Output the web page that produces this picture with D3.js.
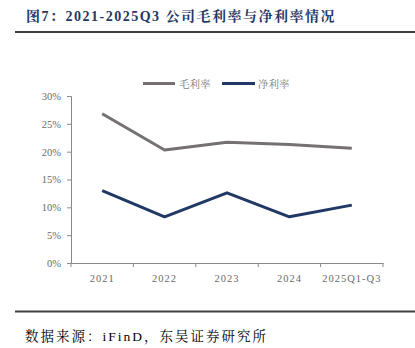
<!DOCTYPE html>
<html><head><meta charset="utf-8">
<script src="https://cdn.jsdelivr.net/npm/d3@7"></script>
<style>body{margin:0;background:#fff;}svg{display:block;}</style>
</head><body>
<svg id="c" width="415" height="348"></svg>
<script>
const categories = ["2021","2022","2023","2024","2025Q1-Q3"];
const grossMargin = [26.8, 20.3, 21.7, 21.3, 20.6];
const netMargin = [13.0, 8.3, 12.6, 8.3, 10.4];
const yTicks = [0,5,10,15,20,25,30];
const seriesNames = ["毛利率","净利率"];
const colors = ["#767171","#1f3864"];

const svg = d3.select("#c");
const cjk = "'Liberation Serif','Noto Serif CJK SC','Noto Sans CJK SC',serif";

svg.append("text").attr("x",26).attr("y",21)
  .attr("font-family",cjk).attr("font-weight","bold").attr("font-size",14)
  .attr("letter-spacing","1.5px")
  .attr("fill","#1f3864").text("图7：2021-2025Q3 公司毛利率与净利率情况");
svg.append("line").attr("x1",15).attr("x2",415).attr("y1",32).attr("y2",32)
  .attr("stroke","#404040").attr("stroke-width",2);
svg.append("line").attr("x1",15).attr("x2",415).attr("y1",311.5).attr("y2",311.5)
  .attr("stroke","#404040").attr("stroke-width",2);
svg.append("text").attr("x",25).attr("y",341)
  .attr("font-family",cjk).attr("font-size",13.5).attr("letter-spacing","2px")
  .attr("fill","#000").text("数据来源：iFinD，东吴证券研究所");

const x = d3.scaleBand().domain(categories).range([71,383]);
const y = d3.scaleLinear().domain([0,30]).range([263,96]);

const gx = svg.append("g").attr("transform","translate(0,263)")
  .call(d3.axisBottom(x).tickSize(0).tickFormat(d=>d));
gx.select(".domain").attr("stroke","#898989");
gx.selectAll("text").attr("font-family","'Liberation Serif',serif").attr("font-size",10.5)
  .attr("fill","#6a6a6a").attr("dy","1.5em").attr("letter-spacing","1px");
const bounds = categories.map(c=>x(c)).concat([x.range()[1]]);
svg.append("g").selectAll("line").data(bounds).join("line")
  .attr("x1",d=>d).attr("x2",d=>d).attr("y1",263).attr("y2",267)
  .attr("stroke","#898989");

const gy = svg.append("g").attr("transform","translate(71,0)")
  .call(d3.axisLeft(y).tickValues(yTicks).tickSize(4).tickPadding(6).tickFormat(d=>d+"%"));
gy.select(".domain").attr("stroke","#898989");
gy.selectAll(".tick line").attr("stroke","#898989");
gy.selectAll("text").attr("font-family","'Liberation Serif',serif").attr("font-size",10.5)
  .attr("fill","#6a6a6a");

const line = d3.line().x((d,i)=>x(categories[i])+x.bandwidth()/2).y(d=>y(d));
[grossMargin, netMargin].forEach((s,i)=>{
  svg.append("path").datum(s).attr("d",line).attr("fill","none")
    .attr("stroke",colors[i]).attr("stroke-width",3).attr("stroke-linejoin","round");
});

const leg = [[143,175,179],[222,255,258]];
seriesNames.forEach((n,i)=>{
  svg.append("line").attr("x1",leg[i][0]).attr("x2",leg[i][1]).attr("y1",83.5).attr("y2",83.5)
    .attr("stroke",colors[i]).attr("stroke-width",3);
  svg.append("text").attr("x",leg[i][2]).attr("y",87.5).attr("font-family",cjk)
    .attr("font-size",10.5).attr("fill","#7a7a7a").text(n);
});
</script>
</body></html>
